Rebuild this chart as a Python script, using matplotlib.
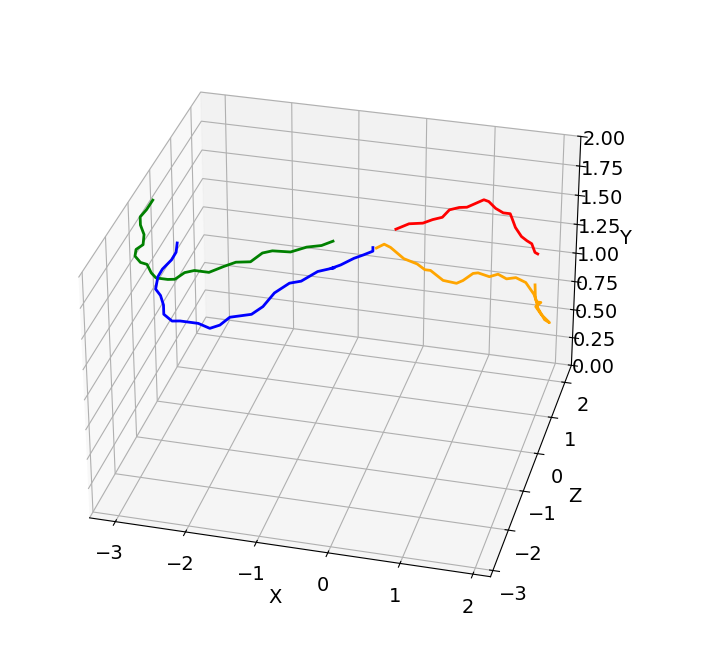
import matplotlib
matplotlib.use('Agg')
import matplotlib.pyplot as plt

green_x = [-3.73,-3.83,-3.93,-3.93,-3.88,-3.90,-4.01,-4.03,-3.95,-3.85,-3.79,-3.72,-3.54,-3.43,
           -3.28,-3.13,-2.91,-2.68,-2.50,-2.28,-2.10,-1.95,-1.68,-1.44,-1.22,-1.05]
green_h = [1.39,1.30,1.23,1.16,1.08,0.99,0.94,0.88,0.83,0.82,0.75,0.71,0.71,0.72,
           0.79,0.82,0.82,0.89,0.94,0.96,1.05,1.08,1.09,1.15,1.18,1.23]
green_d = 1.2

blue_x = [-3.00,-3.02,-3.09,-3.23,-3.30,-3.34,-3.27,-3.23,-3.23,-3.11,-2.99,-2.72,-2.55,-2.40,
          -2.25,-1.93,-1.76,-1.59,-1.37,-1.20,-0.96,-0.72,-0.77,-0.63,-0.44,-0.30,-0.17,-0.17]
blue_h = [1.41,1.33,1.26,1.17,1.10,0.99,0.94,0.86,0.78,0.73,0.74,0.74,0.71,0.75,
          0.83,0.88,0.96,1.09,1.19,1.22,1.32,1.37,1.36,1.40,1.47,1.51,1.55,1.58]
blue_d = 0.0

red_x = [-0.13,0.06,0.26,0.40,0.54,0.64,0.78,0.89,1.01,1.13,1.20,1.30,1.41,1.51,
         1.54,1.59,1.68,1.76,1.83,1.88,1.92]
red_h = [1.40,1.46,1.48,1.52,1.55,1.62,1.65,1.66,1.70,1.74,1.73,1.68,1.65,1.65,
         1.61,1.54,1.47,1.44,1.42,1.35,1.34]
red_d = 1.2

orange_x = [-0.12,-0.01,0.08,0.27,0.46,0.57,0.65,0.83,1.02,1.11,1.25,1.32,1.48,1.60,
            1.72,1.85,1.99,2.11,2.15,2.21,2.14,2.22,2.34,2.27,2.17,2.13,2.12]
orange_h = [1.58,1.62,1.60,1.52,1.49,1.45,1.45,1.38,1.37,1.40,1.47,1.48,1.46,1.49,
            1.46,1.48,1.45,1.36,1.30,1.30,1.26,1.20,1.14,1.16,1.25,1.34,1.44]
orange_d = 0.0

plt.rcParams['font.size'] = 14
fig = plt.figure(figsize=(7.08, 6.70), dpi=100)
ax = fig.add_axes([0.0100, 0.0465, 0.9152, 0.9152], projection='3d')
ax.plot(green_x, [green_d]*len(green_x), green_h, color='green', lw=2)
ax.plot(blue_x, [blue_d]*len(blue_x), blue_h, color='blue', lw=2)
ax.plot(red_x, [red_d]*len(red_x), red_h, color='red', lw=2)
ax.plot(orange_x, [orange_d]*len(orange_x), orange_h, color='orange', lw=2)
ax.set_xlim(-3.37, 2.24)
ax.set_ylim(-3.15, 2.5)
ax.set_zlim(0, 2)
ax.set_box_aspect((4,4,2.7))
ax.view_init(elev=30.5, azim=-75.5)
ax.set_xlabel('X')
ax.set_ylabel('Z')
ax.set_zlabel('Y')
fig.savefig('out.png', dpi=100)
